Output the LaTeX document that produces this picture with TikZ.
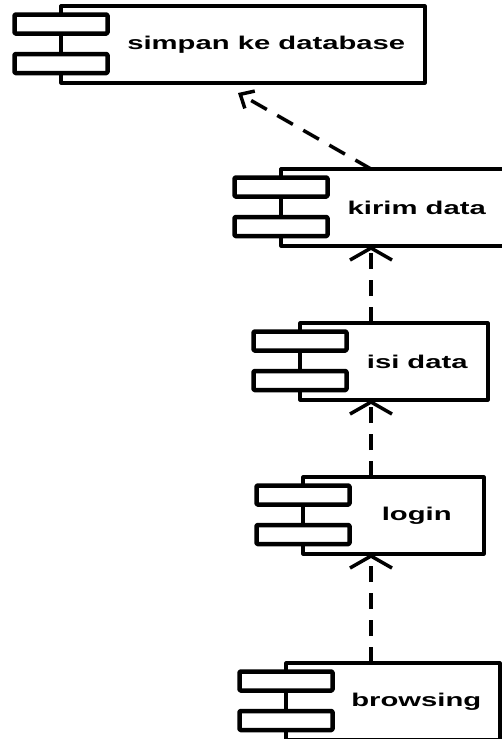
\documentclass[tikz,border=0pt]{standalone}
\usepackage{graphicx}
\usepackage{fontspec}
\setmainfont{Liberation Sans}
\usetikzlibrary{arrows.meta,calc}
\tikzset{
	kotak/.style={draw,line width=3.2pt,rectangle,minimum height=77pt,inner sep=0pt,outer sep=0pt,anchor=north west},
	bagian/.style={draw,fill=white,line width=4.5pt,rounded corners=1pt,minimum width=93pt,minimum height=19pt,inner sep=0pt,outer sep=0pt},
	teks/.style={font=\fontsize{18.5}{20}\selectfont\bfseries,inner sep=0pt},
	panah/.style={line width=3.5pt,dash pattern=on 16pt off 11pt,-{Straight Barb[length=12pt,width=42pt]}},
	panah miring/.style={line width=3.5pt,dash pattern=on 18pt off 12pt,-{Straight Barb[length=11pt,width=20pt]}}
}
% satu komponen: nama, kiri, kanan, atas, label
\newcommand{\komponen}[5]{%
	\node[kotak,minimum width={(#3-#2)*1pt}] (#1) at (#2,#4) {};
	\node[bagian] (#1-a) at ([yshift=-18pt]#1.north west) {};
	\node[bagian] (#1-b) at ([yshift=19.5pt]#1.south west) {};
	\node[teks] (#1-t) at ($(#1-a.east |- #1.center)!0.5!(#1.east)$) {\scalebox{1.58}[1]{#5}};
}
\begin{document}
\begin{tikzpicture}[x=1pt,y=-1pt,line join=round]
	\useasboundingbox (0,0) rectangle (502,739);
	\clip (0,0) rectangle (502,739);
	\komponen{simpan}{61}{425}{6}{simpan ke database}
	\komponen{kirim}{281}{506}{169}{kirim data}
	\komponen{isi}{300}{488}{323}{isi data}
	\komponen{login}{303}{484}{477}{login}
	\komponen{browsing}{286}{500}{663}{browsing}
	\coordinate (jalur) at (371,0);
	\draw[panah] (browsing.north -| jalur) -- (login.south -| jalur);
	\draw[panah] (login.north -| jalur) -- (isi.south -| jalur);
	\draw[panah] (isi.north -| jalur) -- (kirim.south -| jalur);
	\draw[panah miring] (kirim.north -| jalur) -- ([xshift=-5pt,yshift=-10pt]simpan.south);
\end{tikzpicture}
\end{document}
